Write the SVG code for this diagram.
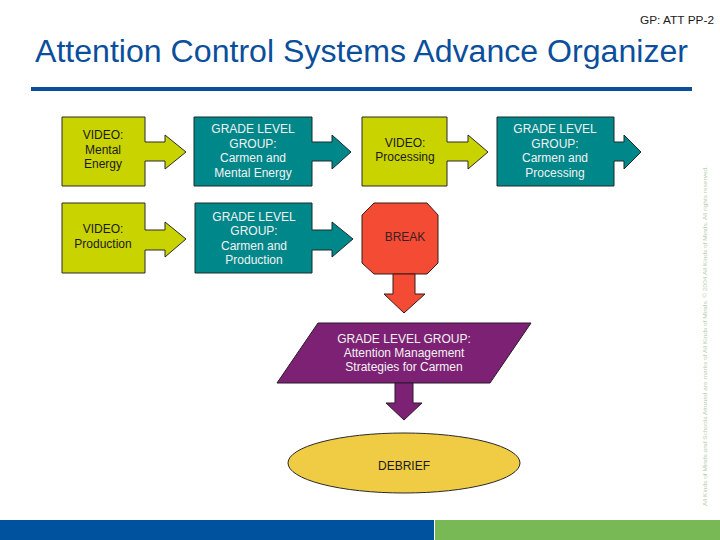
<svg xmlns="http://www.w3.org/2000/svg" width="720" height="540" viewBox="0 0 720 540">
<style>
text{font-family:"Liberation Sans",Arial,sans-serif}
.lbl{font-size:12px;text-anchor:middle}
.dark{fill:#1a1a1a}
.light{fill:#f2f2f2}
.lime{fill:#c9d300;stroke:#2a2a2a;stroke-width:1}
.teal{fill:#00878a;stroke:#1a2a2a;stroke-width:1}
.red{fill:#f44b35;stroke:#3a1a1a;stroke-width:1}
.purple{fill:#7d2174;stroke:#2a1a2a;stroke-width:1}
.yellow{fill:#f0cc45;stroke:#2a2a2a;stroke-width:1}
</style>
<rect width="720" height="540" fill="#ffffff"/>
<g id="header">
<text x="714" y="24" font-size="10" text-anchor="end" fill="#1a1a1a" textLength="74" lengthAdjust="spacingAndGlyphs">GP: ATT PP-2</text>
<text x="35" y="62" font-size="31" fill="#0b4f9c" textLength="653" lengthAdjust="spacingAndGlyphs">Attention Control Systems Advance Organizer</text>
<rect x="31" y="87" width="661" height="4" fill="#0b4f9c"/>
</g>
<g id="video-mental-energy">
<path class="lime" d="M62,117 H145 V142 H165 V135 L186,152 L165,169 V161 H145 V186 H62 Z"/>
<text class="lbl dark" x="103" y="139">VIDEO:</text>
<text class="lbl dark" x="103" y="154">Mental</text>
<text class="lbl dark" x="103" y="168">Energy</text>
</g>
<g id="grade-mental-energy">
<path class="teal" d="M194,117 H312 V142 H332 V135 L351,152 L332,169 V161 H312 V186 H194 Z"/>
<text class="lbl light" x="253" y="133">GRADE LEVEL</text>
<text class="lbl light" x="253" y="148">GROUP:</text>
<text class="lbl light" x="253" y="162">Carmen and</text>
<text class="lbl light" x="253" y="177">Mental Energy</text>
</g>
<g id="video-processing">
<path class="lime" d="M362,117 H447 V142 H468 V135 L488,152 L468,169 V161 H447 V186 H362 Z"/>
<text class="lbl dark" x="405" y="147">VIDEO:</text>
<text class="lbl dark" x="405" y="161">Processing</text>
</g>
<g id="grade-processing">
<path class="teal" d="M497,117 H614 V142 H624 V135 L641,152 L624,169 V161 H614 V186 H497 Z"/>
<text class="lbl light" x="555" y="133">GRADE LEVEL</text>
<text class="lbl light" x="555" y="148">GROUP:</text>
<text class="lbl light" x="555" y="162">Carmen and</text>
<text class="lbl light" x="555" y="177">Processing</text>
</g>
<g id="video-production">
<path class="lime" d="M62,203 H145 V230 H165 V222 L186,239 L165,257 V250 H145 V273 H62 Z"/>
<text class="lbl dark" x="103" y="233">VIDEO:</text>
<text class="lbl dark" x="103" y="248">Production</text>
</g>
<g id="grade-production">
<path class="teal" d="M195,203 H312 V230 H332 V222 L353,239 L332,257 V250 H312 V273 H195 Z"/>
<text class="lbl light" x="254" y="221">GRADE LEVEL</text>
<text class="lbl light" x="254" y="235">GROUP:</text>
<text class="lbl light" x="254" y="250">Carmen and</text>
<text class="lbl light" x="254" y="264">Production</text>
</g>
<g id="break">
<polygon class="red" points="374,203 427,203 438,215 438,263 427,274 374,274 362,263 362,215"/>
<text class="lbl" x="405" y="241" fill="#3a2020">BREAK</text>
</g>
<g id="attention-management">
<polygon class="purple" points="318,323 531,323 490,383 277,383"/>
<text class="lbl light" x="404" y="343">GRADE LEVEL GROUP:</text>
<text class="lbl light" x="404" y="357">Attention Management</text>
<text class="lbl light" x="404" y="371">Strategies for Carmen</text>
</g>
<g id="debrief">
<ellipse class="yellow" cx="404" cy="463" rx="116" ry="30"/>
<text class="lbl dark" x="404" y="470">DEBRIEF</text>
</g>
<g id="connectors">
<path class="red" d="M393,274 H415 V294 H425 L404,313 L384,294 H393 Z"/>
<path class="purple" d="M395,383 H413 V403 H422 L404,420 L386,403 H395 Z"/>
</g>
<g id="footer">
<text transform="translate(707,506) rotate(-90)" font-size="5.6" fill="#b9cdaa" textLength="340" lengthAdjust="spacingAndGlyphs">All Kinds of Minds and Schools Attuned are marks of All Kinds of Minds. © 2004 All Kinds of Minds. All rights reserved.</text>
<rect x="0" y="520" width="434" height="20" fill="#00529f"/>
<rect x="435" y="520" width="285" height="20" fill="#79b955"/>
</g>
</svg>
